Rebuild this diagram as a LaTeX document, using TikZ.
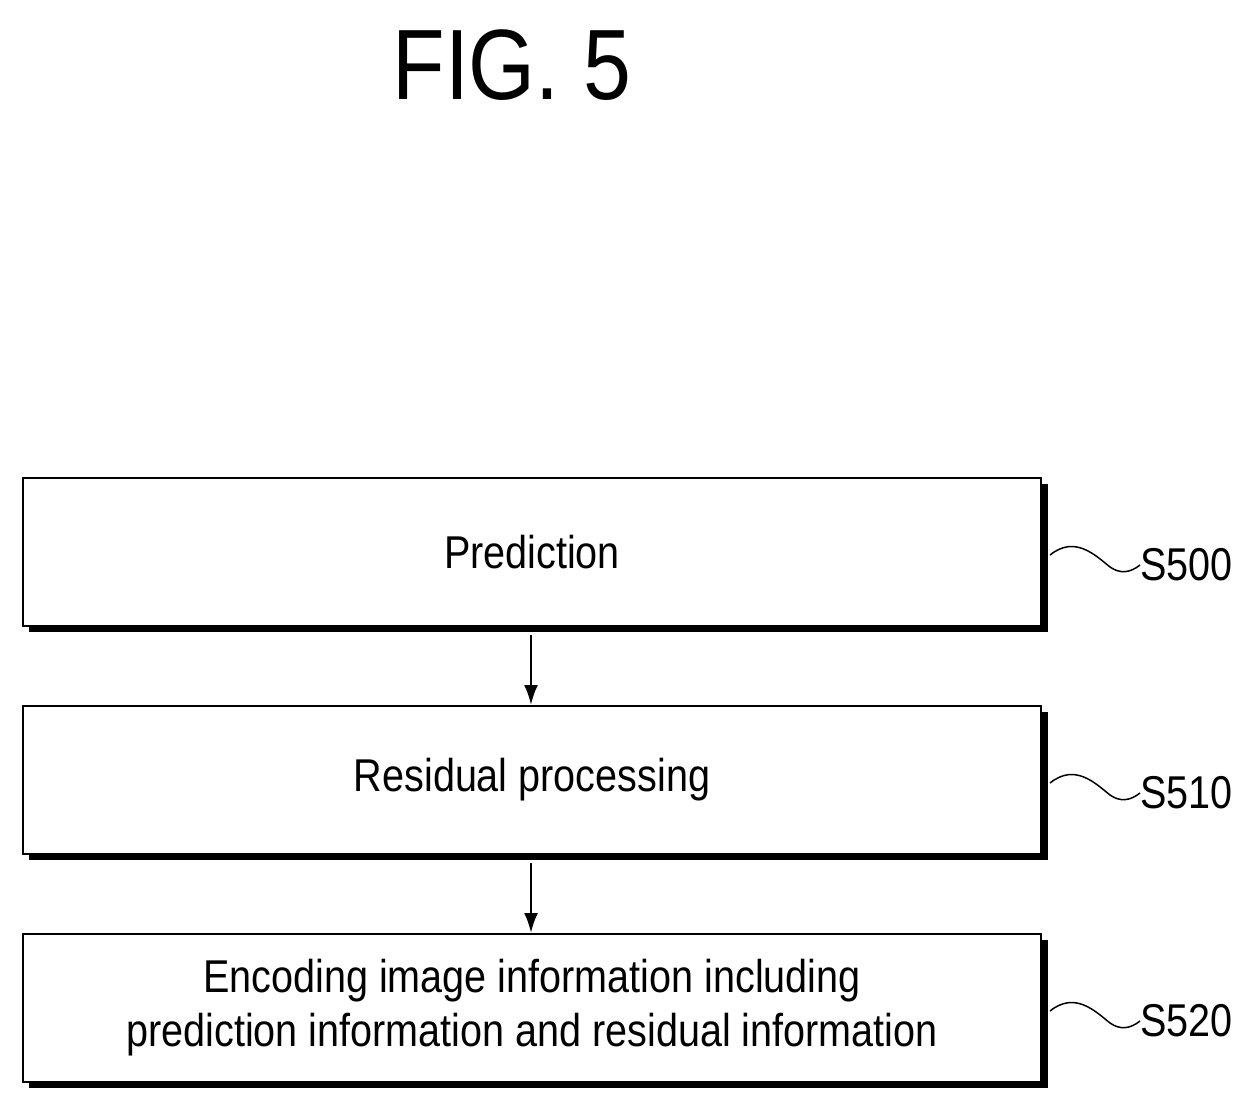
\documentclass[tikz,border=0pt]{standalone}
\usepackage{fontspec}
\setmainfont[FakeStretch=0.86]{Liberation Sans}
\begin{document}
\begin{tikzpicture}[x=1pt,y=-1pt,
  box/.style={draw,line width=2pt,fill=white,minimum width=1018pt,minimum height=148pt,font=\fontsize{46}{54}\selectfont,align=center,inner sep=0pt},
  shadow/.style={fill=black},
  arr/.style={line width=2.5pt,-{Latex[length=20pt,width=14pt]}},
  sq/.style={line width=1.5pt},
  lab/.style={font=\fontsize{46}{54}\selectfont,anchor=west,inner sep=0pt}]
\usetikzlibrary{arrows.meta}
\useasboundingbox (0,0) rectangle (1260,1110);
\node[font=\fontsize{100}{110}\selectfont] (fig) at (512,65) {FIG. 5};
\foreach \y in {477,705,933}{\fill[shadow] (29,\y+7) rectangle (1048,\y+155);}
\node[box,anchor=north west] (b1) at (22,477) {Prediction};
\node[box,anchor=north west] (b2) at (22,705) {Residual processing};
\node[box,anchor=north west] (b3) at (22,933) {Encoding image information including\\prediction information and residual information};
\draw[arr] (b1.south -| 531,0) ++(0,8) coordinate (a1) -- (b2.north -| 531,0);
\draw[arr] (b2.south -| 531,0) ++(0,8) coordinate (a2) -- (b3.north -| 531,0);
\node[lab] (s1) at (1140,565) {S500};
\node[lab] (s2) at (1140,793) {S510};
\node[lab] (s3) at (1140,1021) {S520};
\foreach \n/\y in {s1/565,s2/793,s3/1021}{
  \coordinate (c\n) at (1050,\y-10);
  \draw[sq] (c\n) .. controls (1075,\y-30) and (1095,\y-10) .. (1110,\y+2) .. controls (1120,\y+9) and (1130,\y+8) .. (\n.west);
}
\end{tikzpicture}
\end{document}
